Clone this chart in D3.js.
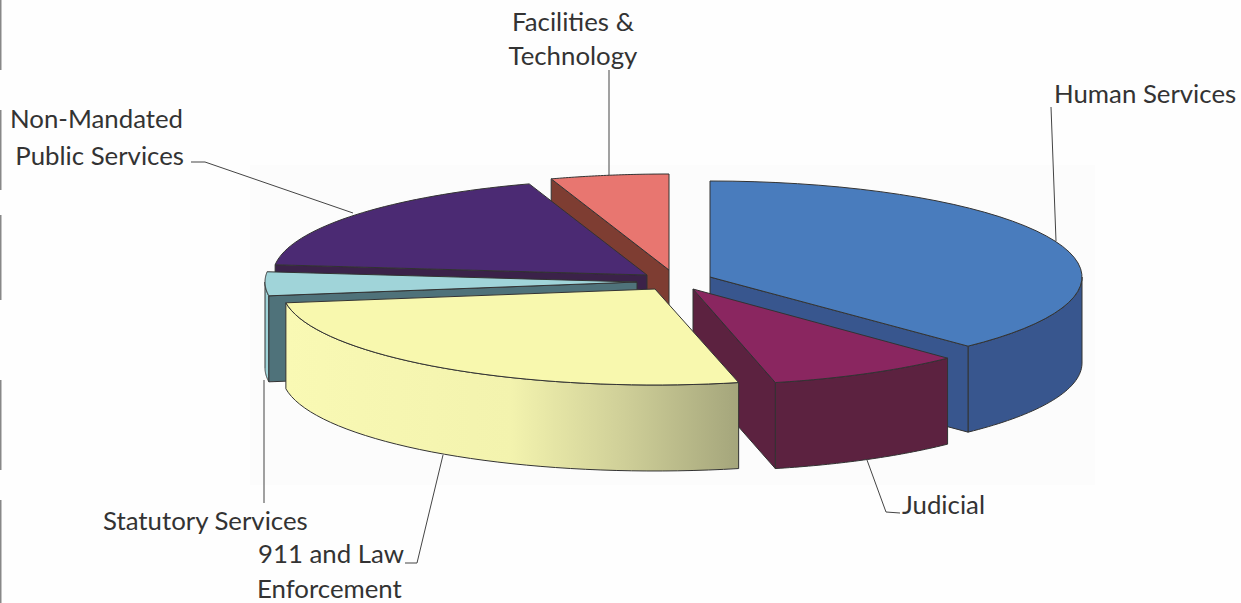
<!DOCTYPE html>
<html>
<head>
<meta charset="utf-8">
<script src="https://cdnjs.cloudflare.com/ajax/libs/d3/7.8.5/d3.min.js"></script>
<style>
html,body{margin:0;padding:0;background:#fefefe;overflow:hidden}
svg{display:block}
text{font-family:Lato,"Open Sans",sans-serif;font-size:25.8px;fill:#333}
</style>
</head>
<body>
<svg id="c" width="1241" height="603"></svg>
<script>
// ---- data (percent of budget) ----
const categories = ["Human Services","Judicial","911 and Law Enforcement","Statutory Services","Non-Mandated Public Services","Facilities & Technology"];
const values = [37.8, 8.6, 26.3, 4.0, 18.2, 5.1];

// ---- style / layout ----
const topColors  = ["#4a7cbd","#8a2560","#f8f8ae","#a0d4d9","#4c2b73","#e8766f"];
const wallColors = ["#38578e","#5c2040","url(#yellowWall)","#a0d4d9","#3a2248","#7e3c32"];
const radialColors = ["#38578e","#5c2040","#a8a97c","#50727a","#3a2248","#7e3c32"];
const apexes = [[710,277],[693,289],[655,289],[637,282],[647,275],[669,270]];
const radiiX = [372,367,373,372,374,374];
const drawOrder = [5,0,4,3,1,2];
const RY = 96, DEPTH = 86;

const labelRows = [
  ["Facilities &",573,31,"middle"],["Technology",573,65,"middle"],
  ["Human Services",1054,103,"start"],
  ["Non-Mandated",10,128,"start"],["Public Services",184,165,"end"],
  ["Judicial",902,514,"start"],
  ["Statutory Services",103,530,"start"],
  ["911 and Law",258,563,"start"],["Enforcement",257,598,"start"]
];
const leaders = [
  [[609,70],[609,176]],
  [[1051,107],[1056,241]],
  [[191,162],[205,162],[353,213]],
  [[867,460],[886,512],[900,513]],
  [[264,380],[264,503]],
  [[443,455],[417,563],[405,563]]
];
const edgeMarks = [[0,70],[110,190],[215,300],[380,470],[500,603]];

const svg = d3.select("#c");
const defs = svg.append("defs");
const g = defs.append("linearGradient").attr("id","yellowWall")
  .attr("gradientUnits","userSpaceOnUse").attr("x1",284).attr("x2",737).attr("y1",0).attr("y2",0);
[[0,"#f9f9b4"],[0.5,"#f3f3ae"],[0.75,"#cfcf98"],[1,"#a5a67c"]].forEach(s=>g.append("stop").attr("offset",s[0]).attr("stop-color",s[1]));
const blur = defs.append("filter").attr("id","soft");
blur.append("feGaussianBlur").attr("stdDeviation",0.5);

svg.append("rect").attr("x",250).attr("y",165).attr("width",845).attr("height",320).attr("fill","#fcfcfc");

const edge = svg.append("g").attr("stroke","#888").attr("stroke-width",1.5);
edgeMarks.forEach(m=>edge.append("line").attr("x1",0.75).attr("x2",0.75).attr("y1",m[0]).attr("y2",m[1]));

const line = d3.line();
leaders.forEach(p=>svg.append("path").attr("d",line(p)).attr("fill","none").attr("stroke","#444").attr("stroke-width",1));

const ys = d3.scaleLinear().domain([-1,1]).range([-RY,RY]);
const arcs = d3.pie().sort(null)(values);
const rim = (i,a)=>{
  const xs = d3.scaleLinear().domain([-1,1]).range([-radiiX[i],radiiX[i]]);
  return [apexes[i][0]+xs(Math.sin(a)), apexes[i][1]-ys(Math.cos(a))];
};
const samples = (a0,a1)=>d3.range(0,41).map(k=>a0+(a1-a0)*k/40);
const down = p=>[p[0],p[1]+DEPTH];

const pie = svg.append("g").attr("filter","url(#soft)");
const face = (pts,fill)=>pie.append("path").attr("d",line(pts)+"Z").attr("fill",fill)
  .attr("stroke","#333").attr("stroke-width",1).attr("stroke-linejoin","round");

drawOrder.forEach(i=>{
  const a0 = arcs[i].startAngle, a1 = arcs[i].endAngle, ap = apexes[i];
  // outer wall: only the front half of the rim faces the viewer
  const fa = Math.max(a0,Math.PI/2), fb = Math.min(a1,3*Math.PI/2);
  if (fb>fa){
    const top = samples(fa,fb).map(a=>rim(i,a));
    face(top.concat(top.slice().reverse().map(down)),wallColors[i]);
  }
  // radial walls that face the viewer
  if (Math.sin(a0)<-1e-6){ const p=rim(i,a0); face([ap,p,down(p),down(ap)],radialColors[i]); }
  if (Math.sin(a1)>1e-6){ const p=rim(i,a1); face([ap,p,down(p),down(ap)],radialColors[i]); }
  // top face
  face([ap].concat(samples(a0,a1).map(a=>rim(i,a))),topColors[i]);
});

labelRows.forEach(r=>svg.append("text").attr("x",r[1]).attr("y",r[2]).attr("text-anchor",r[3]).text(r[0]));
</script>
</body>
</html>
